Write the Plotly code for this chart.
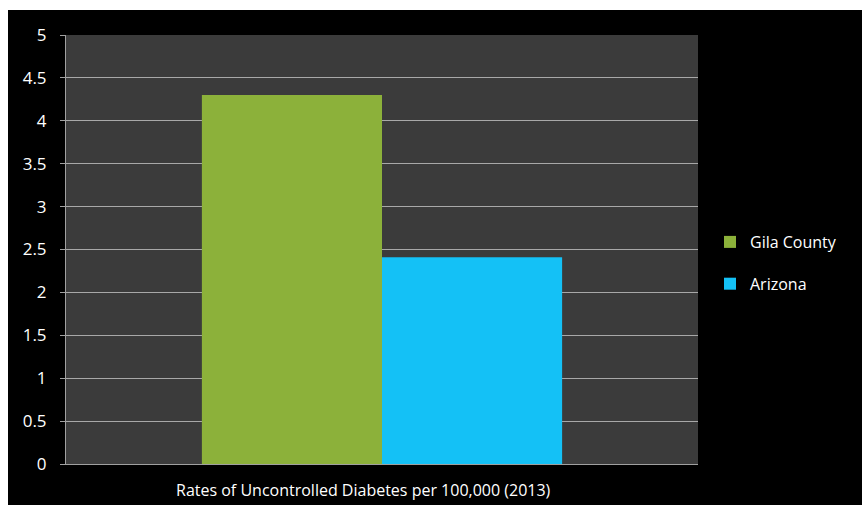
import plotly.graph_objects as go

categories = ["Rates of Uncontrolled Diabetes per 100,000 (2013)"]
series_names = ["Gila County", "Arizona"]
gila_values = [4.3]
arizona_values = [2.41]
y_ticks = [0, 0.5, 1, 1.5, 2, 2.5, 3, 3.5, 4, 4.5, 5]

W, H = 862, 505
L, R, T, B = 66, 698, 35, 464

fig = go.Figure()
fig.add_trace(go.Bar(name=series_names[0], x=categories, y=gila_values, legendgroup="g1",
                     marker=dict(color="#8cb13a", line=dict(width=0))))
fig.add_trace(go.Bar(name=series_names[1], x=categories, y=arizona_values, legendgroup="g2",
                     marker=dict(color="#14c1f6", line=dict(width=0))))

def px_x(p):
    return (p - L) / (R - L)

def px_y(p):
    return (B - p) / (B - T)

fig.add_shape(type="rect", xref="paper", yref="paper",
              x0=px_x(0), x1=px_x(W), y0=px_y(10), y1=px_y(0),
              fillcolor="white", line=dict(width=0), layer="above")
fig.add_shape(type="rect", xref="paper", yref="paper",
              x0=px_x(0), x1=px_x(8), y0=px_y(H), y1=px_y(0),
              fillcolor="white", line=dict(width=0), layer="above")

# category label (drawn slightly left of centre as in the reference)
fig.add_annotation(text=categories[0], xref="paper", yref="paper",
                   x=px_x(363), y=px_y(490), xanchor="center", yanchor="middle",
                   showarrow=False, font=dict(size=16, color="white"))

fig.update_layout(
    width=W, height=H,
    margin=dict(l=L, r=W - R, t=T, b=H - B, autoexpand=False),
    paper_bgcolor="black",
    plot_bgcolor="#3b3b3b",
    barmode="group",
    bargap=0.43,
    bargroupgap=0,
    font=dict(family="Open Sans", color="white", size=15),
    showlegend=True,
    legend=dict(x=px_x(710), y=px_y(263), xanchor="left", yanchor="middle",
                font=dict(size=16, color="white"), bgcolor="rgba(0,0,0,0)",
                itemwidth=30, tracegroupgap=18),
    xaxis=dict(showgrid=False, showline=True, linecolor="#a0a0a0", linewidth=1,
               ticks="", showticklabels=False),
    yaxis=dict(range=[0, 5], tickvals=y_ticks,
               ticktext=[f"{v:g}" for v in y_ticks],
               showgrid=True, gridcolor="#a8a8a8", gridwidth=1,
               showline=True, linecolor="#a0a0a0", linewidth=1,
               ticks="outside", ticklen=5, tickcolor="#a0a0a0",
               ticklabelstandoff=10,
               tickfont=dict(size=17, color="white"), zeroline=False),
)

fig.write_html("out.html")
